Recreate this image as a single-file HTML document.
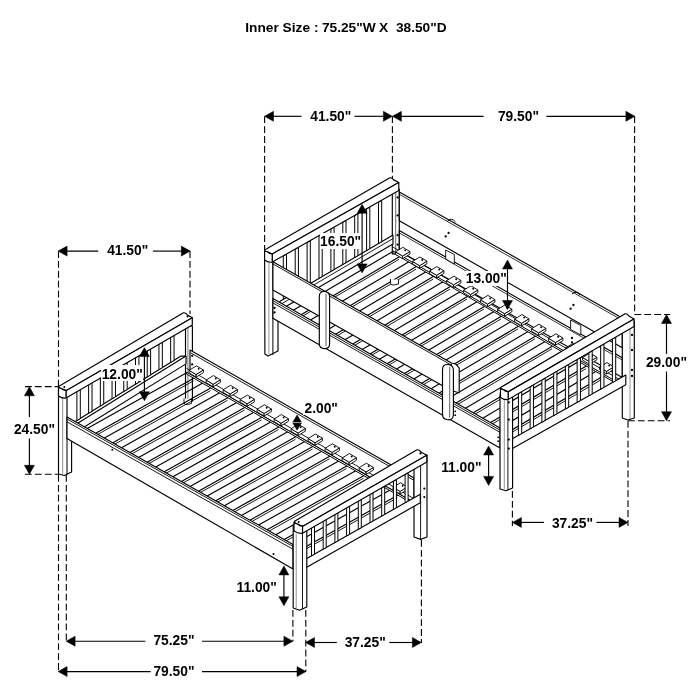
<!DOCTYPE html>
<html><head><meta charset="utf-8"><style>
html,body{margin:0;padding:0;background:#fff;width:700px;height:700px;overflow:hidden}
svg{display:block;will-change:transform}
text{font-family:"Liberation Sans",sans-serif;font-weight:bold;fill:#000}
</style></head><body>
<svg width="700" height="700" viewBox="0 0 700 700">
<rect width="700" height="700" fill="#fff"/>
<polygon points="185.5,326 192.4,326 192.4,401 188.9,402.9 185.5,401" fill="#fff" stroke="#000" stroke-width="1.15" stroke-linejoin="round"/>
<line x1="187.9" y1="327" x2="187.9" y2="401" stroke="#555" stroke-width="0.8" />
<polygon points="190,350 414,477.9 414,502.51 190,374.2" fill="#fff" stroke="#000" stroke-width="1.15" stroke-linejoin="round"/>
<line x1="190.6" y1="352.8" x2="414" y2="480.36" stroke="#000" stroke-width="0.9" />
<circle cx="192.2" cy="355.8" r="1.15" fill="#000"/>
<circle cx="192.2" cy="364.4" r="1.15" fill="#000"/>
<polygon points="66,427.28 181,355.98 186,356.08 186,363.88 66,438.28" fill="#fff" stroke="#000" stroke-width="1.15" stroke-linejoin="round"/>
<line x1="66" y1="430.48" x2="186" y2="356.08" stroke="#000" stroke-width="1.15" />
<path d="M184,398.5 L184,402.5 Q184,405 187.5,404.6 L191.5,403.5 L191.5,399" fill="#fff" stroke="#000" stroke-width="0.9" stroke-linejoin="round"/>
<polygon points="76.9,391.22 80.3,389.22 80.3,418.52 76.9,420.52" fill="#fff" stroke="#000" stroke-width="1.0" stroke-linejoin="round"/>
<polygon points="88.62,384.47 92.02,382.47 92.02,411.26 88.62,413.26" fill="#fff" stroke="#000" stroke-width="1.0" stroke-linejoin="round"/>
<polygon points="100.34,377.72 103.74,375.72 103.74,403.99 100.34,405.99" fill="#fff" stroke="#000" stroke-width="1.0" stroke-linejoin="round"/>
<polygon points="112.06,370.97 115.46,368.97 115.46,396.72 112.06,398.72" fill="#fff" stroke="#000" stroke-width="1.0" stroke-linejoin="round"/>
<polygon points="123.78,364.22 127.18,362.22 127.18,389.46 123.78,391.46" fill="#fff" stroke="#000" stroke-width="1.0" stroke-linejoin="round"/>
<polygon points="135.5,357.47 138.9,355.47 138.9,382.19 135.5,384.19" fill="#fff" stroke="#000" stroke-width="1.0" stroke-linejoin="round"/>
<polygon points="147.22,350.72 150.62,348.72 150.62,374.92 147.22,376.92" fill="#fff" stroke="#000" stroke-width="1.0" stroke-linejoin="round"/>
<polygon points="158.94,343.97 162.34,341.97 162.34,367.66 158.94,369.66" fill="#fff" stroke="#000" stroke-width="1.0" stroke-linejoin="round"/>
<polygon points="170.66,337.22 174.06,335.22 174.06,360.39 170.66,362.39" fill="#fff" stroke="#000" stroke-width="1.0" stroke-linejoin="round"/>
<polygon points="58.5,390 66.5,390 67,397.4 67,438.6 71.6,438.6 71.6,472.1 64.3,475.5 58.5,474" fill="#fff" stroke="#000" stroke-width="1.15" stroke-linejoin="round"/>
<line x1="62.7" y1="397.5" x2="62.7" y2="474" stroke="#666" stroke-width="0.7" />
<line x1="67" y1="438.6" x2="67" y2="475" stroke="#000" stroke-width="1.0" />
<path d="M58.5,387.5 Q58.5,385.9 60.7,385.23 L183.48,312.74 Q185.8,312.5 187.3,314.9 L192.3,317.7 L68.2,389.43 Q66,391 63.8,389.47 Z" fill="#fff" stroke="#000" stroke-width="1.15" stroke-linejoin="round"/>
<polygon points="66,390.7 192.3,317.7 192.3,325 66,398" fill="#fff" stroke="#000" stroke-width="1.15" stroke-linejoin="round"/>
<path d="M58.5,387.5 L58.5,395.95 Q61.88,398.6 66,398 L66,390.4 Q63.75,390.7 61.5,388.6 Z" fill="#fff" stroke="#000" stroke-width="1.15" stroke-linejoin="round"/>
<circle cx="64.3" cy="387" r="1" fill="#000"/>
<circle cx="187.5" cy="316.5" r="1" fill="#000"/>
<line x1="87.25" y1="428.42" x2="187.1" y2="372.5" stroke="#000" stroke-width="1.15" />
<line x1="95.71" y1="433.19" x2="195.5" y2="377.31" stroke="#000" stroke-width="1.15" />
<line x1="95.71" y1="435.59" x2="193.5" y2="380.83" stroke="#000" stroke-width="0.9" />
<line x1="104.38" y1="438.08" x2="204.1" y2="382.24" stroke="#000" stroke-width="1.15" />
<line x1="112.85" y1="442.86" x2="212.5" y2="387.06" stroke="#000" stroke-width="1.15" />
<line x1="112.85" y1="445.26" x2="210.5" y2="390.58" stroke="#000" stroke-width="0.9" />
<line x1="121.52" y1="447.75" x2="221.1" y2="391.98" stroke="#000" stroke-width="1.15" />
<line x1="129.99" y1="452.52" x2="229.5" y2="396.8" stroke="#000" stroke-width="1.15" />
<line x1="129.99" y1="454.92" x2="227.5" y2="400.32" stroke="#000" stroke-width="0.9" />
<line x1="138.65" y1="457.41" x2="238.1" y2="401.72" stroke="#000" stroke-width="1.15" />
<line x1="147.12" y1="462.19" x2="246.5" y2="406.54" stroke="#000" stroke-width="1.15" />
<line x1="147.12" y1="464.59" x2="244.5" y2="410.06" stroke="#000" stroke-width="0.9" />
<line x1="155.79" y1="467.08" x2="255.1" y2="411.47" stroke="#000" stroke-width="1.15" />
<line x1="164.26" y1="471.85" x2="263.5" y2="416.28" stroke="#000" stroke-width="1.15" />
<line x1="164.26" y1="474.25" x2="261.5" y2="419.8" stroke="#000" stroke-width="0.9" />
<line x1="172.93" y1="476.74" x2="272.1" y2="421.21" stroke="#000" stroke-width="1.15" />
<line x1="181.39" y1="481.52" x2="280.5" y2="426.02" stroke="#000" stroke-width="1.15" />
<line x1="181.39" y1="483.92" x2="278.5" y2="429.54" stroke="#000" stroke-width="0.9" />
<line x1="190.06" y1="486.41" x2="289.1" y2="430.95" stroke="#000" stroke-width="1.15" />
<line x1="198.53" y1="491.18" x2="297.5" y2="435.76" stroke="#000" stroke-width="1.15" />
<line x1="198.53" y1="493.58" x2="295.5" y2="439.28" stroke="#000" stroke-width="0.9" />
<line x1="207.2" y1="496.07" x2="306.1" y2="440.69" stroke="#000" stroke-width="1.15" />
<line x1="215.67" y1="500.85" x2="314.5" y2="445.5" stroke="#000" stroke-width="1.15" />
<line x1="215.67" y1="503.25" x2="312.5" y2="449.02" stroke="#000" stroke-width="0.9" />
<line x1="224.34" y1="505.74" x2="323.1" y2="450.43" stroke="#000" stroke-width="1.15" />
<line x1="232.8" y1="510.51" x2="331.5" y2="455.24" stroke="#000" stroke-width="1.15" />
<line x1="232.8" y1="512.91" x2="329.5" y2="458.76" stroke="#000" stroke-width="0.9" />
<line x1="241.47" y1="515.4" x2="340.1" y2="460.17" stroke="#000" stroke-width="1.15" />
<line x1="249.94" y1="520.18" x2="348.5" y2="464.98" stroke="#000" stroke-width="1.15" />
<line x1="249.94" y1="522.58" x2="346.5" y2="468.5" stroke="#000" stroke-width="0.9" />
<line x1="258.61" y1="525.07" x2="357.1" y2="469.91" stroke="#000" stroke-width="1.15" />
<line x1="267.07" y1="529.84" x2="365.5" y2="474.72" stroke="#000" stroke-width="1.15" />
<line x1="267.07" y1="532.24" x2="363.5" y2="478.24" stroke="#000" stroke-width="0.9" />
<line x1="275.74" y1="534.73" x2="374.1" y2="479.65" stroke="#000" stroke-width="1.15" />
<line x1="284.21" y1="539.51" x2="382.5" y2="484.47" stroke="#000" stroke-width="1.15" />
<line x1="284.21" y1="541.91" x2="380.5" y2="487.99" stroke="#000" stroke-width="0.9" />
<line x1="292.88" y1="544.4" x2="391.1" y2="489.39" stroke="#000" stroke-width="1.15" />
<line x1="301.35" y1="549.17" x2="399.5" y2="494.21" stroke="#000" stroke-width="1.15" />
<line x1="301.35" y1="551.57" x2="397.5" y2="497.73" stroke="#000" stroke-width="0.9" />
<line x1="186.4" y1="368.2" x2="414" y2="498.61" stroke="#000" stroke-width="0.9" />
<polygon points="186.4,372.1 414,502.51 414,504.41 186.4,374" fill="#fff" stroke="#000" stroke-width="1.0" stroke-linejoin="round"/>
<polygon points="189.1,370.33 196.1,374.53 196.1,377.13 189.1,372.93" fill="#fff" stroke="#000" stroke-width="0.9" stroke-linejoin="round"/>
<polygon points="196.1,374.53 203.4,370.03 203.4,372.63 196.1,377.13" fill="#fff" stroke="#000" stroke-width="0.9" stroke-linejoin="round"/>
<polygon points="196.4,365.83 203.4,370.03 196.1,374.53 189.1,370.33" fill="#fff" stroke="#000" stroke-width="0.9" stroke-linejoin="round"/>
<circle cx="198.7" cy="368.83" r="0.95" fill="#000"/>
<polygon points="206.1,380.07 213.1,384.27 213.1,386.87 206.1,382.67" fill="#fff" stroke="#000" stroke-width="0.9" stroke-linejoin="round"/>
<polygon points="213.1,384.27 220.4,379.77 220.4,382.37 213.1,386.87" fill="#fff" stroke="#000" stroke-width="0.9" stroke-linejoin="round"/>
<polygon points="213.4,375.57 220.4,379.77 213.1,384.27 206.1,380.07" fill="#fff" stroke="#000" stroke-width="0.9" stroke-linejoin="round"/>
<circle cx="215.7" cy="378.57" r="0.95" fill="#000"/>
<polygon points="223.1,389.81 230.1,394.01 230.1,396.61 223.1,392.41" fill="#fff" stroke="#000" stroke-width="0.9" stroke-linejoin="round"/>
<polygon points="230.1,394.01 237.4,389.51 237.4,392.11 230.1,396.61" fill="#fff" stroke="#000" stroke-width="0.9" stroke-linejoin="round"/>
<polygon points="230.4,385.31 237.4,389.51 230.1,394.01 223.1,389.81" fill="#fff" stroke="#000" stroke-width="0.9" stroke-linejoin="round"/>
<circle cx="232.7" cy="388.31" r="0.95" fill="#000"/>
<polygon points="240.1,399.55 247.1,403.75 247.1,406.35 240.1,402.15" fill="#fff" stroke="#000" stroke-width="0.9" stroke-linejoin="round"/>
<polygon points="247.1,403.75 254.4,399.25 254.4,401.85 247.1,406.35" fill="#fff" stroke="#000" stroke-width="0.9" stroke-linejoin="round"/>
<polygon points="247.4,395.05 254.4,399.25 247.1,403.75 240.1,399.55" fill="#fff" stroke="#000" stroke-width="0.9" stroke-linejoin="round"/>
<circle cx="249.7" cy="398.05" r="0.95" fill="#000"/>
<polygon points="257.1,409.29 264.1,413.49 264.1,416.09 257.1,411.89" fill="#fff" stroke="#000" stroke-width="0.9" stroke-linejoin="round"/>
<polygon points="264.1,413.49 271.4,408.99 271.4,411.59 264.1,416.09" fill="#fff" stroke="#000" stroke-width="0.9" stroke-linejoin="round"/>
<polygon points="264.4,404.79 271.4,408.99 264.1,413.49 257.1,409.29" fill="#fff" stroke="#000" stroke-width="0.9" stroke-linejoin="round"/>
<circle cx="266.7" cy="407.79" r="0.95" fill="#000"/>
<polygon points="274.1,419.04 281.1,423.24 281.1,425.84 274.1,421.64" fill="#fff" stroke="#000" stroke-width="0.9" stroke-linejoin="round"/>
<polygon points="281.1,423.24 288.4,418.74 288.4,421.34 281.1,425.84" fill="#fff" stroke="#000" stroke-width="0.9" stroke-linejoin="round"/>
<polygon points="281.4,414.54 288.4,418.74 281.1,423.24 274.1,419.04" fill="#fff" stroke="#000" stroke-width="0.9" stroke-linejoin="round"/>
<circle cx="283.7" cy="417.54" r="0.95" fill="#000"/>
<polygon points="291.1,428.78 298.1,432.98 298.1,435.58 291.1,431.38" fill="#fff" stroke="#000" stroke-width="0.9" stroke-linejoin="round"/>
<polygon points="298.1,432.98 305.4,428.48 305.4,431.08 298.1,435.58" fill="#fff" stroke="#000" stroke-width="0.9" stroke-linejoin="round"/>
<polygon points="298.4,424.28 305.4,428.48 298.1,432.98 291.1,428.78" fill="#fff" stroke="#000" stroke-width="0.9" stroke-linejoin="round"/>
<circle cx="300.7" cy="427.28" r="0.95" fill="#000"/>
<polygon points="308.1,438.52 315.1,442.72 315.1,445.32 308.1,441.12" fill="#fff" stroke="#000" stroke-width="0.9" stroke-linejoin="round"/>
<polygon points="315.1,442.72 322.4,438.22 322.4,440.82 315.1,445.32" fill="#fff" stroke="#000" stroke-width="0.9" stroke-linejoin="round"/>
<polygon points="315.4,434.02 322.4,438.22 315.1,442.72 308.1,438.52" fill="#fff" stroke="#000" stroke-width="0.9" stroke-linejoin="round"/>
<circle cx="317.7" cy="437.02" r="0.95" fill="#000"/>
<polygon points="325.1,448.26 332.1,452.46 332.1,455.06 325.1,450.86" fill="#fff" stroke="#000" stroke-width="0.9" stroke-linejoin="round"/>
<polygon points="332.1,452.46 339.4,447.96 339.4,450.56 332.1,455.06" fill="#fff" stroke="#000" stroke-width="0.9" stroke-linejoin="round"/>
<polygon points="332.4,443.76 339.4,447.96 332.1,452.46 325.1,448.26" fill="#fff" stroke="#000" stroke-width="0.9" stroke-linejoin="round"/>
<circle cx="334.7" cy="446.76" r="0.95" fill="#000"/>
<polygon points="342.1,458 349.1,462.2 349.1,464.8 342.1,460.6" fill="#fff" stroke="#000" stroke-width="0.9" stroke-linejoin="round"/>
<polygon points="349.1,462.2 356.4,457.7 356.4,460.3 349.1,464.8" fill="#fff" stroke="#000" stroke-width="0.9" stroke-linejoin="round"/>
<polygon points="349.4,453.5 356.4,457.7 349.1,462.2 342.1,458" fill="#fff" stroke="#000" stroke-width="0.9" stroke-linejoin="round"/>
<circle cx="351.7" cy="456.5" r="0.95" fill="#000"/>
<polygon points="359.1,467.74 366.1,471.94 366.1,474.54 359.1,470.34" fill="#fff" stroke="#000" stroke-width="0.9" stroke-linejoin="round"/>
<polygon points="366.1,471.94 373.4,467.44 373.4,470.04 366.1,474.54" fill="#fff" stroke="#000" stroke-width="0.9" stroke-linejoin="round"/>
<polygon points="366.4,463.24 373.4,467.44 366.1,471.94 359.1,467.74" fill="#fff" stroke="#000" stroke-width="0.9" stroke-linejoin="round"/>
<circle cx="368.7" cy="466.24" r="0.95" fill="#000"/>
<polygon points="376.1,477.48 383.1,481.68 383.1,484.28 376.1,480.08" fill="#fff" stroke="#000" stroke-width="0.9" stroke-linejoin="round"/>
<polygon points="383.1,481.68 390.4,477.18 390.4,479.78 383.1,484.28" fill="#fff" stroke="#000" stroke-width="0.9" stroke-linejoin="round"/>
<polygon points="383.4,472.98 390.4,477.18 383.1,481.68 376.1,477.48" fill="#fff" stroke="#000" stroke-width="0.9" stroke-linejoin="round"/>
<circle cx="385.7" cy="475.98" r="0.95" fill="#000"/>
<polygon points="393.1,487.22 400.1,491.42 400.1,494.02 393.1,489.82" fill="#fff" stroke="#000" stroke-width="0.9" stroke-linejoin="round"/>
<polygon points="400.1,491.42 407.4,486.92 407.4,489.52 400.1,494.02" fill="#fff" stroke="#000" stroke-width="0.9" stroke-linejoin="round"/>
<polygon points="400.4,482.72 407.4,486.92 400.1,491.42 393.1,487.22" fill="#fff" stroke="#000" stroke-width="0.9" stroke-linejoin="round"/>
<circle cx="402.7" cy="485.72" r="0.95" fill="#000"/>
<polygon points="67,417 293,544.46 293,569 67,438.6" fill="#fff" stroke="#000" stroke-width="1.15" stroke-linejoin="round"/>
<line x1="67" y1="419" x2="293" y2="546.46" stroke="#000" stroke-width="0.9" />
<line x1="67" y1="421.8" x2="293" y2="549.26" stroke="#000" stroke-width="0.9" />
<circle cx="112.3" cy="449.8" r="1" fill="#000"/>
<circle cx="273.5" cy="554" r="1" fill="#000"/>
<polygon points="414,462 427,455 427,537 420.6,539.4 414,537" fill="#fff" stroke="#000" stroke-width="1.15" stroke-linejoin="round"/>
<line x1="420.6" y1="460" x2="420.6" y2="539" stroke="#000" stroke-width="0.9" />
<circle cx="424.3" cy="488.6" r="1.1" fill="#000"/>
<circle cx="424.3" cy="497.1" r="1.1" fill="#000"/>
<polygon points="306.3,558.8 420.3,494.16 420.3,502.76 306.3,567.4" fill="#fff" stroke="#000" stroke-width="1.15" stroke-linejoin="round"/>
<polygon points="311.5,527.62 314.5,525.92 314.5,554.15 311.5,555.85" fill="#fff" stroke="#000" stroke-width="1.0" stroke-linejoin="round"/>
<polygon points="323.2,521 326.2,519.3 326.2,547.52 323.2,549.22" fill="#fff" stroke="#000" stroke-width="1.0" stroke-linejoin="round"/>
<polygon points="334.9,514.38 337.9,512.68 337.9,540.88 334.9,542.58" fill="#fff" stroke="#000" stroke-width="1.0" stroke-linejoin="round"/>
<polygon points="346.6,507.76 349.6,506.06 349.6,534.25 346.6,535.95" fill="#fff" stroke="#000" stroke-width="1.0" stroke-linejoin="round"/>
<polygon points="358.3,501.13 361.3,499.43 361.3,527.62 358.3,529.32" fill="#fff" stroke="#000" stroke-width="1.0" stroke-linejoin="round"/>
<polygon points="370,494.51 373,492.81 373,520.98 370,522.68" fill="#fff" stroke="#000" stroke-width="1.0" stroke-linejoin="round"/>
<polygon points="381.7,487.89 384.7,486.19 384.7,514.35 381.7,516.05" fill="#fff" stroke="#000" stroke-width="1.0" stroke-linejoin="round"/>
<polygon points="393.4,481.27 396.4,479.57 396.4,507.71 393.4,509.41" fill="#fff" stroke="#000" stroke-width="1.0" stroke-linejoin="round"/>
<polygon points="405.1,474.65 408.1,472.95 408.1,501.08 405.1,502.78" fill="#fff" stroke="#000" stroke-width="1.0" stroke-linejoin="round"/>
<polygon points="294,525 302.5,525 306.8,528 306.8,607 299.5,610.3 293.2,608 293.2,525" fill="#fff" stroke="#000" stroke-width="1.15" stroke-linejoin="round"/>
<line x1="296.2" y1="534" x2="296.2" y2="608" stroke="#666" stroke-width="0.7" />
<line x1="302.5" y1="534" x2="302.5" y2="609" stroke="#000" stroke-width="0.9" />
<path d="M294,522.6 Q294,521 296.2,520.34 L416.98,449.75 Q419.3,449.5 420.8,451.9 L426.8,455.3 L304.7,525.14 Q302.5,526.7 300.3,525.16 Z" fill="#fff" stroke="#000" stroke-width="1.15" stroke-linejoin="round"/>
<polygon points="302.5,526.4 426.8,455.3 426.8,462.1 302.5,533.2" fill="#fff" stroke="#000" stroke-width="1.15" stroke-linejoin="round"/>
<path d="M294,522.6 L294,531 Q297.82,533.8 302.5,533.2 L302.5,526.1 Q299.95,526.4 297.4,524 Z" fill="#fff" stroke="#000" stroke-width="1.15" stroke-linejoin="round"/>
<circle cx="298.7" cy="522" r="1" fill="#000"/>
<circle cx="420.5" cy="453.4" r="1.1" fill="#000"/>
<polygon points="392.3,189 399.3,189 399.3,254 392.3,254" fill="#fff" stroke="#000" stroke-width="1.15" stroke-linejoin="round"/>
<line x1="395.7" y1="190" x2="395.7" y2="253" stroke="#444" stroke-width="0.8" />
<polygon points="399.3,230.6 622.3,357.71 622.3,377.39 399.3,251.4" fill="#fff" stroke="#000" stroke-width="1.15" stroke-linejoin="round"/>
<line x1="399.3" y1="232.9" x2="622.3" y2="360.01" stroke="#000" stroke-width="0.8" />
<circle cx="397.6" cy="235.2" r="1.15" fill="#000"/>
<circle cx="397.6" cy="244.6" r="1.15" fill="#000"/>
<polygon points="399.3,191.9 622.3,317.89 622.3,347.81 399.3,220.7" fill="#fff" stroke="#000" stroke-width="1.15" stroke-linejoin="round"/>
<line x1="399.3" y1="194.3" x2="622.3" y2="320.29" stroke="#000" stroke-width="0.8" />
<circle cx="397.6" cy="197.4" r="1.15" fill="#000"/>
<circle cx="397.6" cy="215.4" r="1.15" fill="#000"/>
<circle cx="448.6" cy="232.9" r="1.15" fill="#000"/>
<circle cx="445.7" cy="236.4" r="1.15" fill="#000"/>
<circle cx="573.4" cy="305" r="1.15" fill="#000"/>
<circle cx="570.6" cy="308.7" r="1.15" fill="#000"/>
<circle cx="572" cy="338" r="1.15" fill="#000"/>
<circle cx="572" cy="342.3" r="1.15" fill="#000"/>
<path d="M447.5,221 q4,-4 8,1" fill="none" stroke="#000" stroke-width="1" stroke-linejoin="round"/>
<path d="M572,294 q4,-4 8,1" fill="none" stroke="#000" stroke-width="1" stroke-linejoin="round"/>
<polygon points="445.7,250 454.3,254.5 454.3,264 445.7,259" fill="#fff" stroke="#000" stroke-width="0.9" stroke-linejoin="round"/>
<polygon points="570.6,320 580.8,325.5 580.8,335 570.6,329.5" fill="#fff" stroke="#000" stroke-width="0.9" stroke-linejoin="round"/>
<line x1="293.27" y1="310.21" x2="393.35" y2="251.16" stroke="#000" stroke-width="1.15" />
<line x1="301.07" y1="314.66" x2="401.05" y2="255.67" stroke="#000" stroke-width="1.15" />
<line x1="301.07" y1="317.06" x2="399.05" y2="259.25" stroke="#000" stroke-width="0.9" />
<line x1="310.49" y1="320.03" x2="410.35" y2="261.11" stroke="#000" stroke-width="1.15" />
<line x1="318.29" y1="324.47" x2="418.05" y2="265.61" stroke="#000" stroke-width="1.15" />
<line x1="318.29" y1="326.87" x2="416.05" y2="269.19" stroke="#000" stroke-width="0.9" />
<line x1="327.71" y1="329.84" x2="427.35" y2="271.05" stroke="#000" stroke-width="1.15" />
<line x1="335.51" y1="334.29" x2="435.05" y2="275.56" stroke="#000" stroke-width="1.15" />
<line x1="335.51" y1="336.69" x2="433.05" y2="279.14" stroke="#000" stroke-width="0.9" />
<line x1="344.93" y1="339.66" x2="444.35" y2="281" stroke="#000" stroke-width="1.15" />
<line x1="352.73" y1="344.1" x2="452.05" y2="285.5" stroke="#000" stroke-width="1.15" />
<line x1="352.73" y1="346.5" x2="450.05" y2="289.08" stroke="#000" stroke-width="0.9" />
<line x1="362.15" y1="349.47" x2="461.35" y2="290.94" stroke="#000" stroke-width="1.15" />
<line x1="369.95" y1="353.92" x2="469.05" y2="295.45" stroke="#000" stroke-width="1.15" />
<line x1="369.95" y1="356.32" x2="467.05" y2="299.03" stroke="#000" stroke-width="0.9" />
<line x1="379.37" y1="359.29" x2="478.35" y2="300.89" stroke="#000" stroke-width="1.15" />
<line x1="387.17" y1="363.73" x2="486.05" y2="305.39" stroke="#000" stroke-width="1.15" />
<line x1="387.17" y1="366.13" x2="484.05" y2="308.97" stroke="#000" stroke-width="0.9" />
<line x1="396.59" y1="369.1" x2="495.35" y2="310.83" stroke="#000" stroke-width="1.15" />
<line x1="404.39" y1="373.55" x2="503.05" y2="315.34" stroke="#000" stroke-width="1.15" />
<line x1="404.39" y1="375.95" x2="501.05" y2="318.92" stroke="#000" stroke-width="0.9" />
<line x1="413.81" y1="378.92" x2="512.35" y2="320.78" stroke="#000" stroke-width="1.15" />
<line x1="421.61" y1="383.36" x2="520.05" y2="325.28" stroke="#000" stroke-width="1.15" />
<line x1="421.61" y1="385.76" x2="518.05" y2="328.86" stroke="#000" stroke-width="0.9" />
<line x1="431.03" y1="388.73" x2="529.35" y2="330.72" stroke="#000" stroke-width="1.15" />
<line x1="438.83" y1="393.18" x2="537.05" y2="335.23" stroke="#000" stroke-width="1.15" />
<line x1="438.83" y1="395.58" x2="535.05" y2="338.81" stroke="#000" stroke-width="0.9" />
<line x1="448.25" y1="398.55" x2="546.35" y2="340.67" stroke="#000" stroke-width="1.15" />
<line x1="456.05" y1="402.99" x2="554.05" y2="345.17" stroke="#000" stroke-width="1.15" />
<line x1="456.05" y1="405.39" x2="552.05" y2="348.75" stroke="#000" stroke-width="0.9" />
<line x1="465.47" y1="408.36" x2="563.35" y2="350.61" stroke="#000" stroke-width="1.15" />
<line x1="473.27" y1="412.81" x2="571.05" y2="355.12" stroke="#000" stroke-width="1.15" />
<line x1="473.27" y1="415.21" x2="569.05" y2="358.7" stroke="#000" stroke-width="0.9" />
<line x1="482.69" y1="418.18" x2="580.35" y2="360.56" stroke="#000" stroke-width="1.15" />
<line x1="490.49" y1="422.62" x2="588.05" y2="365.06" stroke="#000" stroke-width="1.15" />
<line x1="490.49" y1="425.02" x2="586.05" y2="368.64" stroke="#000" stroke-width="0.9" />
<line x1="499.91" y1="427.99" x2="597.35" y2="370.5" stroke="#000" stroke-width="1.15" />
<line x1="507.71" y1="432.44" x2="605.05" y2="375.01" stroke="#000" stroke-width="1.15" />
<line x1="507.71" y1="434.84" x2="603.05" y2="378.59" stroke="#000" stroke-width="0.9" />
<line x1="392.9" y1="247" x2="622.3" y2="381.2" stroke="#000" stroke-width="0.9" />
<polygon points="392.9,250.9 622.3,385.1 622.3,387 392.9,252.8" fill="#fff" stroke="#000" stroke-width="1.0" stroke-linejoin="round"/>
<polygon points="395.6,251.86 402.6,256.06 402.6,258.66 395.6,254.46" fill="#fff" stroke="#000" stroke-width="0.9" stroke-linejoin="round"/>
<polygon points="402.6,256.06 409.9,251.56 409.9,254.16 402.6,258.66" fill="#fff" stroke="#000" stroke-width="0.9" stroke-linejoin="round"/>
<polygon points="402.9,247.36 409.9,251.56 402.6,256.06 395.6,251.86" fill="#fff" stroke="#000" stroke-width="0.9" stroke-linejoin="round"/>
<circle cx="405.2" cy="250.36" r="0.95" fill="#000"/>
<polygon points="412.6,261.47 419.6,265.67 419.6,268.27 412.6,264.07" fill="#fff" stroke="#000" stroke-width="0.9" stroke-linejoin="round"/>
<polygon points="419.6,265.67 426.9,261.17 426.9,263.77 419.6,268.27" fill="#fff" stroke="#000" stroke-width="0.9" stroke-linejoin="round"/>
<polygon points="419.9,256.97 426.9,261.17 419.6,265.67 412.6,261.47" fill="#fff" stroke="#000" stroke-width="0.9" stroke-linejoin="round"/>
<circle cx="422.2" cy="259.97" r="0.95" fill="#000"/>
<polygon points="429.6,271.07 436.6,275.27 436.6,277.87 429.6,273.67" fill="#fff" stroke="#000" stroke-width="0.9" stroke-linejoin="round"/>
<polygon points="436.6,275.27 443.9,270.77 443.9,273.37 436.6,277.87" fill="#fff" stroke="#000" stroke-width="0.9" stroke-linejoin="round"/>
<polygon points="436.9,266.57 443.9,270.77 436.6,275.27 429.6,271.07" fill="#fff" stroke="#000" stroke-width="0.9" stroke-linejoin="round"/>
<circle cx="439.2" cy="269.57" r="0.95" fill="#000"/>
<polygon points="446.6,280.68 453.6,284.88 453.6,287.48 446.6,283.28" fill="#fff" stroke="#000" stroke-width="0.9" stroke-linejoin="round"/>
<polygon points="453.6,284.88 460.9,280.38 460.9,282.98 453.6,287.48" fill="#fff" stroke="#000" stroke-width="0.9" stroke-linejoin="round"/>
<polygon points="453.9,276.18 460.9,280.38 453.6,284.88 446.6,280.68" fill="#fff" stroke="#000" stroke-width="0.9" stroke-linejoin="round"/>
<circle cx="456.2" cy="279.18" r="0.95" fill="#000"/>
<polygon points="463.6,290.28 470.6,294.48 470.6,297.08 463.6,292.88" fill="#fff" stroke="#000" stroke-width="0.9" stroke-linejoin="round"/>
<polygon points="470.6,294.48 477.9,289.98 477.9,292.58 470.6,297.08" fill="#fff" stroke="#000" stroke-width="0.9" stroke-linejoin="round"/>
<polygon points="470.9,285.78 477.9,289.98 470.6,294.48 463.6,290.28" fill="#fff" stroke="#000" stroke-width="0.9" stroke-linejoin="round"/>
<circle cx="473.2" cy="288.78" r="0.95" fill="#000"/>
<polygon points="480.6,299.89 487.6,304.09 487.6,306.69 480.6,302.49" fill="#fff" stroke="#000" stroke-width="0.9" stroke-linejoin="round"/>
<polygon points="487.6,304.09 494.9,299.59 494.9,302.19 487.6,306.69" fill="#fff" stroke="#000" stroke-width="0.9" stroke-linejoin="round"/>
<polygon points="487.9,295.39 494.9,299.59 487.6,304.09 480.6,299.89" fill="#fff" stroke="#000" stroke-width="0.9" stroke-linejoin="round"/>
<circle cx="490.2" cy="298.39" r="0.95" fill="#000"/>
<polygon points="497.6,309.49 504.6,313.69 504.6,316.29 497.6,312.09" fill="#fff" stroke="#000" stroke-width="0.9" stroke-linejoin="round"/>
<polygon points="504.6,313.69 511.9,309.19 511.9,311.79 504.6,316.29" fill="#fff" stroke="#000" stroke-width="0.9" stroke-linejoin="round"/>
<polygon points="504.9,304.99 511.9,309.19 504.6,313.69 497.6,309.49" fill="#fff" stroke="#000" stroke-width="0.9" stroke-linejoin="round"/>
<circle cx="507.2" cy="307.99" r="0.95" fill="#000"/>
<polygon points="514.6,319.1 521.6,323.3 521.6,325.9 514.6,321.7" fill="#fff" stroke="#000" stroke-width="0.9" stroke-linejoin="round"/>
<polygon points="521.6,323.3 528.9,318.8 528.9,321.4 521.6,325.9" fill="#fff" stroke="#000" stroke-width="0.9" stroke-linejoin="round"/>
<polygon points="521.9,314.6 528.9,318.8 521.6,323.3 514.6,319.1" fill="#fff" stroke="#000" stroke-width="0.9" stroke-linejoin="round"/>
<circle cx="524.2" cy="317.6" r="0.95" fill="#000"/>
<polygon points="531.6,328.7 538.6,332.9 538.6,335.5 531.6,331.3" fill="#fff" stroke="#000" stroke-width="0.9" stroke-linejoin="round"/>
<polygon points="538.6,332.9 545.9,328.4 545.9,331 538.6,335.5" fill="#fff" stroke="#000" stroke-width="0.9" stroke-linejoin="round"/>
<polygon points="538.9,324.2 545.9,328.4 538.6,332.9 531.6,328.7" fill="#fff" stroke="#000" stroke-width="0.9" stroke-linejoin="round"/>
<circle cx="541.2" cy="327.2" r="0.95" fill="#000"/>
<polygon points="548.6,338.31 555.6,342.51 555.6,345.11 548.6,340.91" fill="#fff" stroke="#000" stroke-width="0.9" stroke-linejoin="round"/>
<polygon points="555.6,342.51 562.9,338.01 562.9,340.61 555.6,345.11" fill="#fff" stroke="#000" stroke-width="0.9" stroke-linejoin="round"/>
<polygon points="555.9,333.81 562.9,338.01 555.6,342.51 548.6,338.31" fill="#fff" stroke="#000" stroke-width="0.9" stroke-linejoin="round"/>
<circle cx="558.2" cy="336.81" r="0.95" fill="#000"/>
<polygon points="565.6,347.91 572.6,352.11 572.6,354.71 565.6,350.51" fill="#fff" stroke="#000" stroke-width="0.9" stroke-linejoin="round"/>
<polygon points="572.6,352.11 579.9,347.61 579.9,350.21 572.6,354.71" fill="#fff" stroke="#000" stroke-width="0.9" stroke-linejoin="round"/>
<polygon points="572.9,343.41 579.9,347.61 572.6,352.11 565.6,347.91" fill="#fff" stroke="#000" stroke-width="0.9" stroke-linejoin="round"/>
<circle cx="575.2" cy="346.41" r="0.95" fill="#000"/>
<polygon points="582.6,357.52 589.6,361.72 589.6,364.32 582.6,360.12" fill="#fff" stroke="#000" stroke-width="0.9" stroke-linejoin="round"/>
<polygon points="589.6,361.72 596.9,357.22 596.9,359.82 589.6,364.32" fill="#fff" stroke="#000" stroke-width="0.9" stroke-linejoin="round"/>
<polygon points="589.9,353.02 596.9,357.22 589.6,361.72 582.6,357.52" fill="#fff" stroke="#000" stroke-width="0.9" stroke-linejoin="round"/>
<circle cx="592.2" cy="356.02" r="0.95" fill="#000"/>
<polygon points="599.6,367.12 606.6,371.32 606.6,373.92 599.6,369.72" fill="#fff" stroke="#000" stroke-width="0.9" stroke-linejoin="round"/>
<polygon points="606.6,371.32 613.9,366.82 613.9,369.42 606.6,373.92" fill="#fff" stroke="#000" stroke-width="0.9" stroke-linejoin="round"/>
<polygon points="606.9,362.62 613.9,366.82 606.6,371.32 599.6,367.12" fill="#fff" stroke="#000" stroke-width="0.9" stroke-linejoin="round"/>
<circle cx="609.2" cy="365.62" r="0.95" fill="#000"/>
<polygon points="280,301.2 393,235.1 393,243.9 280,310" fill="#fff" stroke="#000" stroke-width="1.15" stroke-linejoin="round"/>
<line x1="280" y1="304.7" x2="393" y2="238.6" stroke="#000" stroke-width="0.9" />
<path d="M390.5,279 L390.5,283 Q390.5,285.5 394,285 L398.5,284 L398.5,280" fill="#fff" stroke="#000" stroke-width="0.9" stroke-linejoin="round"/>
<polygon points="283.3,256.12 286.5,254.12 286.5,297.27 283.3,299.27" fill="#fff" stroke="#000" stroke-width="1.0" stroke-linejoin="round"/>
<polygon points="295.2,249.4 298.4,247.4 298.4,290.31 295.2,292.31" fill="#fff" stroke="#000" stroke-width="1.0" stroke-linejoin="round"/>
<polygon points="307.1,242.68 310.3,240.68 310.3,283.35 307.1,285.35" fill="#fff" stroke="#000" stroke-width="1.0" stroke-linejoin="round"/>
<polygon points="319,235.95 322.2,233.95 322.2,276.38 319,278.38" fill="#fff" stroke="#000" stroke-width="1.0" stroke-linejoin="round"/>
<polygon points="330.9,229.23 334.1,227.23 334.1,269.42 330.9,271.42" fill="#fff" stroke="#000" stroke-width="1.0" stroke-linejoin="round"/>
<polygon points="342.8,222.51 346,220.51 346,262.46 342.8,264.46" fill="#fff" stroke="#000" stroke-width="1.0" stroke-linejoin="round"/>
<polygon points="354.7,215.78 357.9,213.78 357.9,255.5 354.7,257.5" fill="#fff" stroke="#000" stroke-width="1.0" stroke-linejoin="round"/>
<polygon points="366.6,209.06 369.8,207.06 369.8,248.54 366.6,250.54" fill="#fff" stroke="#000" stroke-width="1.0" stroke-linejoin="round"/>
<polygon points="378.5,202.34 381.7,200.34 381.7,241.58 378.5,243.58" fill="#fff" stroke="#000" stroke-width="1.0" stroke-linejoin="round"/>
<polygon points="264.6,254 272.2,254 272.9,261.7 272.9,318.5 278,318.5 278,351 268,356 264.9,354" fill="#fff" stroke="#000" stroke-width="1.15" stroke-linejoin="round"/>
<line x1="268.9" y1="262" x2="268.9" y2="354" stroke="#666" stroke-width="0.7" />
<line x1="272.9" y1="318" x2="272.9" y2="355" stroke="#000" stroke-width="1.0" />
<path d="M264.6,251 Q264.6,249.4 266.8,248.76 L389.88,177.73 Q392.2,177.47 393.7,179.87 L398.8,182.57 L274.4,252.86 Q272.2,254.4 270,252.91 Z" fill="#fff" stroke="#000" stroke-width="1.15" stroke-linejoin="round"/>
<polygon points="272.2,254.1 398.8,182.57 398.8,190.57 272.2,262.1" fill="#fff" stroke="#000" stroke-width="1.15" stroke-linejoin="round"/>
<path d="M264.6,251 L264.6,260.07 Q268.02,262.7 272.2,262.1 L272.2,253.8 Q269.92,254.1 267.64,252.05 Z" fill="#fff" stroke="#000" stroke-width="1.15" stroke-linejoin="round"/>
<polygon points="272.9,298.6 500,428.05 500,447.97 272.9,318.3" fill="#fff" stroke="#000" stroke-width="1.15" stroke-linejoin="round"/>
<line x1="272.9" y1="300.7" x2="500" y2="430.15" stroke="#000" stroke-width="0.9" />
<line x1="272.9" y1="302.9" x2="500" y2="432.35" stroke="#000" stroke-width="0.9" />
<circle cx="274.5" cy="308" r="1.15" fill="#000"/>
<circle cx="274.5" cy="312.5" r="1.15" fill="#000"/>
<polygon points="272.9,261.7 451.5,362.97 455.5,363.97 459.2,367.97 459.2,392.73 451.5,390.73 272.9,290" fill="#fff" stroke="#000" stroke-width="1.15" stroke-linejoin="round"/>
<line x1="272.9" y1="263.9" x2="451.5" y2="365.17" stroke="#000" stroke-width="0.9" />
<line x1="451.5" y1="363.97" x2="451.5" y2="390.73" stroke="#000" stroke-width="0.9" />
<path d="M319.3,296.35 Q319.3,291.2 324.45000000000005,291.5 Q329.6,292.0 329.6,296.85 L329.6,343.65 Q329.6,348.8 324.45000000000005,348.6 Q319.3,348.2 319.3,343.65 Z" fill="#fff" stroke="#000" stroke-width="1.15" stroke-linejoin="round"/>
<line x1="326" y1="293.7" x2="326" y2="346.3" stroke="#333" stroke-width="0.8" />
<path d="M442.5,369.65 Q442.5,364.2 447.95,364.5 Q453.4,365.0 453.4,370.15 L453.4,414.55 Q453.4,420.0 447.95,419.8 Q442.5,419.4 442.5,414.55 Z" fill="#fff" stroke="#000" stroke-width="1.15" stroke-linejoin="round"/>
<line x1="449.7" y1="366.7" x2="449.7" y2="417.5" stroke="#333" stroke-width="0.8" />
<circle cx="455.2" cy="411.3" r="0.9" fill="#000"/>
<circle cx="455.2" cy="415.2" r="0.9" fill="#000"/>
<circle cx="498.2" cy="437.3" r="0.9" fill="#000"/>
<circle cx="498.2" cy="441.2" r="0.9" fill="#000"/>
<polygon points="622.3,328 634.3,321 634.3,418 628,420 622.3,418" fill="#fff" stroke="#000" stroke-width="1.15" stroke-linejoin="round"/>
<line x1="630" y1="322" x2="630" y2="419" stroke="#666" stroke-width="0.7" />
<polygon points="512.4,438.8 625.8,375.07 625.8,384.77 512.4,448.5" fill="#fff" stroke="#000" stroke-width="1.15" stroke-linejoin="round"/>
<polygon points="518.4,393.53 521.7,391.63 521.7,433.53 518.4,435.43" fill="#fff" stroke="#000" stroke-width="1.0" stroke-linejoin="round"/>
<polygon points="530.15,386.71 533.45,384.81 533.45,426.92 530.15,428.82" fill="#fff" stroke="#000" stroke-width="1.0" stroke-linejoin="round"/>
<polygon points="541.9,379.9 545.2,378 545.2,420.32 541.9,422.22" fill="#fff" stroke="#000" stroke-width="1.0" stroke-linejoin="round"/>
<polygon points="553.65,373.08 556.95,371.18 556.95,413.72 553.65,415.62" fill="#fff" stroke="#000" stroke-width="1.0" stroke-linejoin="round"/>
<polygon points="565.4,366.27 568.7,364.37 568.7,407.11 565.4,409.01" fill="#fff" stroke="#000" stroke-width="1.0" stroke-linejoin="round"/>
<polygon points="577.15,359.45 580.45,357.55 580.45,400.51 577.15,402.41" fill="#fff" stroke="#000" stroke-width="1.0" stroke-linejoin="round"/>
<polygon points="588.9,352.64 592.2,350.74 592.2,393.91 588.9,395.81" fill="#fff" stroke="#000" stroke-width="1.0" stroke-linejoin="round"/>
<polygon points="600.65,345.82 603.95,343.92 603.95,387.3 600.65,389.2" fill="#fff" stroke="#000" stroke-width="1.0" stroke-linejoin="round"/>
<polygon points="612.4,339.01 615.7,337.11 615.7,380.7 612.4,382.6" fill="#fff" stroke="#000" stroke-width="1.0" stroke-linejoin="round"/>
<polygon points="500.5,392 508.1,392 512.6,397.6 512.6,488 506,490.7 500,489 500,395.9" fill="#fff" stroke="#000" stroke-width="1.15" stroke-linejoin="round"/>
<line x1="504.3" y1="400" x2="504.3" y2="489" stroke="#666" stroke-width="0.7" />
<line x1="507.9" y1="400" x2="507.9" y2="490" stroke="#000" stroke-width="0.9" />
<path d="M500.5,388.6 Q500.5,387 502.7,386.32 L625.08,313.81 Q627.4,313.58 628.9,315.98 L634,318.88 L510.3,390.62 Q508.1,392.2 505.9,390.66 Z" fill="#fff" stroke="#000" stroke-width="1.15" stroke-linejoin="round"/>
<polygon points="508.1,391.9 634,318.88 634,326.48 508.1,399.5" fill="#fff" stroke="#000" stroke-width="1.15" stroke-linejoin="round"/>
<path d="M500.5,388.6 L500.5,397.43 Q503.92,400.1 508.1,399.5 L508.1,391.6 Q505.82,391.9 503.54,389.75 Z" fill="#fff" stroke="#000" stroke-width="1.15" stroke-linejoin="round"/>
<circle cx="508.8" cy="402.3" r="1.15" fill="#000"/>
<circle cx="508.8" cy="419.6" r="1.15" fill="#000"/>
<circle cx="508.8" cy="439.6" r="1.15" fill="#000"/>
<circle cx="508.8" cy="448.6" r="1.15" fill="#000"/>
<circle cx="632" cy="335" r="1.15" fill="#000"/>
<circle cx="632" cy="350" r="1.15" fill="#000"/>
<circle cx="632" cy="370" r="1.15" fill="#000"/>
<circle cx="632" cy="376" r="1.15" fill="#000"/>
<line x1="272" y1="116.3" x2="301.5" y2="116.3" stroke="#000" stroke-width="1.15" />
<line x1="354.5" y1="116.3" x2="384" y2="116.3" stroke="#000" stroke-width="1.15" />
<line x1="401" y1="116.3" x2="483.6" y2="116.3" stroke="#000" stroke-width="1.15" />
<line x1="546.4" y1="116.3" x2="626" y2="116.3" stroke="#000" stroke-width="1.15" />
<polygon points="264.5,116.3 273.5,111.3 273.5,121.3" fill="#000" stroke="#000" stroke-width="0.5" stroke-linejoin="round"/>
<polygon points="392.4,116.3 383.4,111.3 383.4,121.3" fill="#000" stroke="#000" stroke-width="0.5" stroke-linejoin="round"/>
<polygon points="392.4,116.3 401.4,111.3 401.4,121.3" fill="#000" stroke="#000" stroke-width="0.5" stroke-linejoin="round"/>
<polygon points="634.9,116.3 625.9,111.3 625.9,121.3" fill="#000" stroke="#000" stroke-width="0.5" stroke-linejoin="round"/>
<line x1="264.6" y1="116.3" x2="264.6" y2="250" stroke="#000" stroke-width="1.1" stroke-dasharray="6.8 3.1"/>
<line x1="392.4" y1="116.3" x2="392.4" y2="179" stroke="#000" stroke-width="1.1" stroke-dasharray="6.8 3.1"/>
<line x1="634.6" y1="116.3" x2="634.6" y2="314.5" stroke="#000" stroke-width="1.1" stroke-dasharray="6.8 3.1"/>
<line x1="666.5" y1="320" x2="666.5" y2="353.9" stroke="#000" stroke-width="1.15" />
<line x1="666.5" y1="371.5" x2="666.5" y2="415" stroke="#000" stroke-width="1.15" />
<polygon points="666.5,314.5 661.5,323.5 671.5,323.5" fill="#000" stroke="#000" stroke-width="0.5" stroke-linejoin="round"/>
<polygon points="666.5,420.7 661.5,411.7 671.5,411.7" fill="#000" stroke="#000" stroke-width="0.5" stroke-linejoin="round"/>
<line x1="634.4" y1="314.5" x2="670" y2="314.5" stroke="#000" stroke-width="1.1" stroke-dasharray="6.8 3.1"/>
<line x1="628" y1="420.7" x2="670" y2="420.7" stroke="#000" stroke-width="1.1" stroke-dasharray="6.8 3.1"/>
<line x1="488.6" y1="452" x2="488.6" y2="480" stroke="#000" stroke-width="1.15" />
<polygon points="488.6,446 483.6,455 493.6,455" fill="#000" stroke="#000" stroke-width="0.5" stroke-linejoin="round"/>
<polygon points="488.6,485.4 483.6,476.4 493.6,476.4" fill="#000" stroke="#000" stroke-width="0.5" stroke-linejoin="round"/>
<line x1="518" y1="522.4" x2="544" y2="522.4" stroke="#000" stroke-width="1.15" />
<line x1="596.4" y1="522.4" x2="622" y2="522.4" stroke="#000" stroke-width="1.15" />
<polygon points="512.4,522.4 521.4,517.4 521.4,527.4" fill="#000" stroke="#000" stroke-width="0.5" stroke-linejoin="round"/>
<polygon points="628,522.4 619,517.4 619,527.4" fill="#000" stroke="#000" stroke-width="0.5" stroke-linejoin="round"/>
<line x1="512.4" y1="491" x2="512.4" y2="526" stroke="#000" stroke-width="1.1" stroke-dasharray="6.8 3.1"/>
<line x1="628" y1="421" x2="628" y2="526" stroke="#000" stroke-width="1.1" stroke-dasharray="6.8 3.1"/>
<rect x="320" y="233" width="40" height="16" fill="#fff"/>
<line x1="362.1" y1="210" x2="362.1" y2="267" stroke="#000" stroke-width="1.15" />
<polygon points="362.1,204.3 357.1,213.3 367.1,213.3" fill="#000" stroke="#000" stroke-width="0.5" stroke-linejoin="round"/>
<polygon points="362.1,272.9 357.1,263.9 367.1,263.9" fill="#000" stroke="#000" stroke-width="0.5" stroke-linejoin="round"/>
<rect x="465" y="271" width="42" height="15" fill="#fff"/>
<line x1="507.5" y1="266" x2="507.5" y2="304" stroke="#000" stroke-width="1.15" />
<polygon points="507.5,260 502.5,269 512.5,269" fill="#000" stroke="#000" stroke-width="0.5" stroke-linejoin="round"/>
<polygon points="507.5,309.5 502.5,300.5 512.5,300.5" fill="#000" stroke="#000" stroke-width="0.5" stroke-linejoin="round"/>
<line x1="64" y1="251.1" x2="98.2" y2="251.1" stroke="#000" stroke-width="1.15" />
<line x1="152.9" y1="251.1" x2="184" y2="251.1" stroke="#000" stroke-width="1.15" />
<polygon points="58.1,251.1 67.1,246.1 67.1,256.1" fill="#000" stroke="#000" stroke-width="0.5" stroke-linejoin="round"/>
<polygon points="190.3,251.1 181.3,246.1 181.3,256.1" fill="#000" stroke="#000" stroke-width="0.5" stroke-linejoin="round"/>
<line x1="58.5" y1="251.1" x2="58.5" y2="386.5" stroke="#000" stroke-width="1.1" stroke-dasharray="6.8 3.1"/>
<line x1="190" y1="251.1" x2="190" y2="314" stroke="#000" stroke-width="1.1" stroke-dasharray="6.8 3.1"/>
<line x1="29.4" y1="392" x2="29.4" y2="417" stroke="#000" stroke-width="1.15" />
<line x1="29.4" y1="438.6" x2="29.4" y2="469" stroke="#000" stroke-width="1.15" />
<polygon points="29.4,386.8 24.4,395.8 34.4,395.8" fill="#000" stroke="#000" stroke-width="0.5" stroke-linejoin="round"/>
<polygon points="29.4,474.3 24.4,465.3 34.4,465.3" fill="#000" stroke="#000" stroke-width="0.5" stroke-linejoin="round"/>
<line x1="25" y1="386.6" x2="58.5" y2="386.6" stroke="#000" stroke-width="1.1" stroke-dasharray="6.8 3.1"/>
<line x1="25" y1="474.3" x2="59" y2="474.3" stroke="#000" stroke-width="1.1" stroke-dasharray="6.8 3.1"/>
<rect x="101" y="365" width="42" height="16" fill="#fff"/>
<line x1="144.4" y1="353" x2="144.4" y2="395" stroke="#000" stroke-width="1.15" />
<polygon points="144.4,347.6 139.4,356.6 149.4,356.6" fill="#000" stroke="#000" stroke-width="0.5" stroke-linejoin="round"/>
<polygon points="144.4,400.8 139.4,391.8 149.4,391.8" fill="#000" stroke="#000" stroke-width="0.5" stroke-linejoin="round"/>
<rect x="303" y="400" width="36" height="15" fill="#fff"/>
<polygon points="297.1,415 292.6,422.5 301.6,422.5" fill="#000" stroke="#000" stroke-width="0.5" stroke-linejoin="round"/>
<polygon points="297.1,430.2 292.6,422.7 301.6,422.7" fill="#000" stroke="#000" stroke-width="0.5" stroke-linejoin="round"/>
<line x1="292" y1="422.6" x2="302" y2="422.6" stroke="#ccc" stroke-width="0.8" />
<line x1="283.9" y1="571" x2="283.9" y2="600" stroke="#000" stroke-width="1.15" />
<polygon points="283.9,565.9 278.9,574.9 288.9,574.9" fill="#000" stroke="#000" stroke-width="0.5" stroke-linejoin="round"/>
<polygon points="283.9,605.8 278.9,596.8 288.9,596.8" fill="#000" stroke="#000" stroke-width="0.5" stroke-linejoin="round"/>
<line x1="72" y1="641.2" x2="145.4" y2="641.2" stroke="#000" stroke-width="1.15" />
<line x1="202" y1="641.2" x2="287" y2="641.2" stroke="#000" stroke-width="1.15" />
<polygon points="66.1,641.2 75.1,636.2 75.1,646.2" fill="#000" stroke="#000" stroke-width="0.5" stroke-linejoin="round"/>
<polygon points="292.9,641.2 283.9,636.2 283.9,646.2" fill="#000" stroke="#000" stroke-width="0.5" stroke-linejoin="round"/>
<line x1="64" y1="671.6" x2="150.7" y2="671.6" stroke="#000" stroke-width="1.15" />
<line x1="202" y1="671.6" x2="300" y2="671.6" stroke="#000" stroke-width="1.15" />
<polygon points="58.1,671.6 67.1,666.6 67.1,676.6" fill="#000" stroke="#000" stroke-width="0.5" stroke-linejoin="round"/>
<polygon points="306,671.6 297,666.6 297,676.6" fill="#000" stroke="#000" stroke-width="0.5" stroke-linejoin="round"/>
<line x1="311" y1="642.5" x2="336.8" y2="642.5" stroke="#000" stroke-width="1.15" />
<line x1="389.3" y1="642.5" x2="415" y2="642.5" stroke="#000" stroke-width="1.15" />
<polygon points="305.5,642.5 314.5,637.5 314.5,647.5" fill="#000" stroke="#000" stroke-width="0.5" stroke-linejoin="round"/>
<polygon points="421.4,642.5 412.4,637.5 412.4,647.5" fill="#000" stroke="#000" stroke-width="0.5" stroke-linejoin="round"/>
<line x1="58.5" y1="475" x2="58.5" y2="671.6" stroke="#000" stroke-width="1.1" stroke-dasharray="6.8 3.1"/>
<line x1="66.3" y1="475" x2="66.3" y2="641.2" stroke="#000" stroke-width="1.1" stroke-dasharray="6.8 3.1"/>
<line x1="292.9" y1="610" x2="292.9" y2="641.2" stroke="#000" stroke-width="1.1" stroke-dasharray="6.8 3.1"/>
<line x1="305.8" y1="610" x2="305.8" y2="672" stroke="#000" stroke-width="1.1" stroke-dasharray="6.8 3.1"/>
<line x1="421.4" y1="540" x2="421.4" y2="643" stroke="#000" stroke-width="1.1" stroke-dasharray="6.8 3.1"/>
<text transform="translate(245.24,32.1) scale(1.04,1)" x="0" y="0" font-size="13.2">Inner Size</text>
<text transform="translate(313.92,32.1) scale(1.04,1)" x="0" y="0" font-size="13.2">:</text>
<text transform="translate(321.91,32.1) scale(1.04,1)" x="0" y="0" font-size="13.2">75.25"W</text>
<text transform="translate(379.12,32.1) scale(1.04,1)" x="0" y="0" font-size="13.2">X</text>
<text transform="translate(395.89,32.1) scale(1.04,1)" x="0" y="0" font-size="13.2">38.50"D</text>
<text transform="translate(310.24,120.8) scale(0.965,1)" x="0" y="0" font-size="14.3">41.50"</text>
<text transform="translate(497.88,120.6) scale(0.965,1)" x="0" y="0" font-size="14.3">79.50"</text>
<text transform="translate(645.88,367.2) scale(0.965,1)" x="0" y="0" font-size="14.3">29.00"</text>
<text transform="translate(441.13,471.7) scale(0.965,1)" x="0" y="0" font-size="14.3">11.00"</text>
<text transform="translate(551.94,527.6) scale(0.965,1)" x="0" y="0" font-size="14.3">37.25"</text>
<text transform="translate(320.1,245.8) scale(0.965,1)" x="0" y="0" font-size="14.3">16.50"</text>
<text transform="translate(465.75,283) scale(0.965,1)" x="0" y="0" font-size="14.3">13.00"</text>
<text transform="translate(107.19,255.4) scale(0.965,1)" x="0" y="0" font-size="14.3">41.50"</text>
<text transform="translate(13.88,434.4) scale(0.965,1)" x="0" y="0" font-size="14.3">24.50"</text>
<text transform="translate(101.7,379) scale(0.965,1)" x="0" y="0" font-size="14.3">12.00"</text>
<text transform="translate(304.5,412.9) scale(0.965,1)" x="0" y="0" font-size="14.3">2.00"</text>
<text transform="translate(236.53,591.6) scale(0.965,1)" x="0" y="0" font-size="14.3">11.00"</text>
<text transform="translate(153.44,645.3) scale(0.965,1)" x="0" y="0" font-size="14.3">75.25"</text>
<text transform="translate(153.38,675.7) scale(0.965,1)" x="0" y="0" font-size="14.3">79.50"</text>
<text transform="translate(344.69,647.2) scale(0.965,1)" x="0" y="0" font-size="14.3">37.25"</text>
</svg></body></html>
